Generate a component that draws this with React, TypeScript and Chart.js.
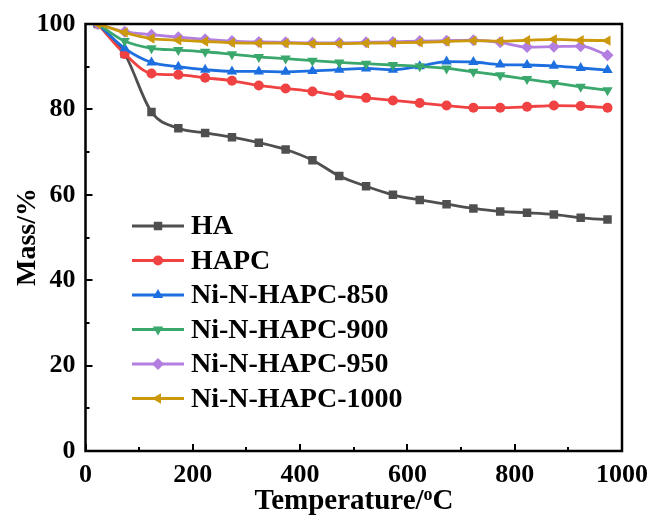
import React, { useEffect, useRef } from "react";
import { Chart, registerables } from "chart.js";

Chart.register(...registerables);

const temperatures = [23, 73, 123, 173, 223, 273, 323, 373, 423, 473, 523, 573, 623, 673, 723, 773, 823, 873, 923, 973];
const seriesNames = ["HA", "HAPC", "Ni-N-HAPC-850", "Ni-N-HAPC-900", "Ni-N-HAPC-950", "Ni-N-HAPC-1000"];
const massHA = [100, 93.0, 79.4, 75.6, 74.5, 73.5, 72.2, 70.6, 68.1, 64.4, 62.0, 60.0, 58.8, 57.8, 56.8, 56.1, 55.8, 55.4, 54.6, 54.2];
const massHAPC = [100, 93.0, 88.4, 88.1, 87.4, 86.7, 85.6, 84.9, 84.2, 83.3, 82.7, 82.1, 81.5, 80.9, 80.4, 80.4, 80.6, 80.9, 80.8, 80.4];
const mass850 = [100, 94.3, 91.0, 90.0, 89.3, 88.9, 88.9, 88.8, 89.0, 89.3, 89.6, 89.3, 90.1, 91.2, 91.1, 90.5, 90.4, 90.2, 89.7, 89.2];
const mass900 = [100, 96.0, 94.3, 93.9, 93.5, 92.9, 92.3, 91.9, 91.4, 91.0, 90.7, 90.4, 90.1, 89.6, 88.8, 88.0, 87.1, 86.2, 85.3, 84.5];
const mass950 = [100, 98.2, 97.5, 96.9, 96.4, 96.0, 95.8, 95.7, 95.6, 95.6, 95.7, 95.8, 96.0, 96.1, 96.2, 95.7, 94.6, 94.7, 94.8, 92.7];
const mass1000 = [100, 98.0, 96.6, 96.2, 95.9, 95.6, 95.5, 95.5, 95.4, 95.4, 95.5, 95.6, 95.7, 95.9, 96.1, 96.0, 96.2, 96.4, 96.2, 96.1];
const xTicks = [0, 200, 400, 600, 800, 1000];
const yTicks = [0, 20, 40, 60, 80, 100];

const colors = ["#4f4f4f", "#f04242", "#1d6fe0", "#3aa86c", "#b27fe0", "#cc980c"];
const pointStyles = ["rect", "circle", "triangle", "triangle", "rectRot", "triangle"];
const rotations = [0, 0, 0, 180, 0, -90];
const radii = [6, 5, 6, 6, 6, 6];
const seriesValues = [massHA, massHAPC, mass850, mass900, mass950, mass1000];

const FONT = '"Liberation Serif", "Times New Roman", serif';

function drawMarker(ctx: any, style: string, r: number, rot: number, x: number, y: number, color: string) {
  ctx.save();
  ctx.fillStyle = color;
  ctx.translate(x, y);
  ctx.rotate((rot * Math.PI) / 180);
  ctx.beginPath();
  if (style === "rect") {
    const s = r / Math.SQRT2;
    ctx.rect(-s, -s, 2 * s, 2 * s);
  } else if (style === "circle") {
    ctx.arc(0, 0, r, 0, Math.PI * 2);
  } else if (style === "rectRot") {
    ctx.moveTo(0, -r);
    ctx.lineTo(r, 0);
    ctx.lineTo(0, r);
    ctx.lineTo(-r, 0);
    ctx.closePath();
  } else {
    ctx.moveTo(0, -r);
    ctx.lineTo(r * 0.866, r * 0.5);
    ctx.lineTo(-r * 0.866, r * 0.5);
    ctx.closePath();
  }
  ctx.fill();
  ctx.restore();
}

const framePlugin = {
  id: "frameAndLegend",
  afterDraw(chart: any) {
    const ctx = chart.ctx;
    const { left, right, top, bottom } = chart.chartArea;
    const xs = chart.scales.x;
    const ys = chart.scales.y;
    ctx.save();
    ctx.strokeStyle = "#000";
    ctx.lineWidth = 2;
    for (let v = 0; v <= 1000; v += 100) {
      const px = Math.round(xs.getPixelForValue(v));
      const len = v % 200 === 0 ? 7 : 4;
      ctx.beginPath();
      ctx.moveTo(px, bottom);
      ctx.lineTo(px, bottom - len);
      ctx.stroke();
    }
    for (let v = 0; v <= 100; v += 10) {
      const py = Math.round(ys.getPixelForValue(v));
      const len = v % 20 === 0 ? 7 : 4;
      ctx.beginPath();
      ctx.moveTo(left, py);
      ctx.lineTo(left + len, py);
      ctx.stroke();
    }
    ctx.lineWidth = 2.5;
    ctx.strokeRect(left, top, right - left, bottom - top);

    ctx.fillStyle = "#000";
    ctx.font = `bold 28px ${FONT}`;
    ctx.textAlign = "center";
    ctx.textBaseline = "middle";
    ctx.save();
    ctx.translate(28, 237);
    ctx.rotate(-Math.PI / 2);
    ctx.fillText("Mass/%", 0, 0);
    ctx.restore();

    const part1 = "Temperature/";
    const part3 = "C";
    const big = `bold 29px ${FONT}`;
    const small = `bold 18px ${FONT}`;
    ctx.font = big;
    const w1 = ctx.measureText(part1).width;
    const w3 = ctx.measureText(part3).width;
    ctx.font = small;
    const w2 = ctx.measureText("o").width;
    const total = w1 + w2 + w3;
    const cx = 354;
    let sx = cx - total / 2;
    const ty = 509;
    ctx.textAlign = "left";
    ctx.textBaseline = "alphabetic";
    ctx.font = big;
    ctx.fillText(part1, sx, ty);
    sx += w1;
    ctx.font = small;
    ctx.fillText("o", sx, ty - 9);
    sx += w2;
    ctx.font = big;
    ctx.fillText(part3, sx, ty);

    const rowY = [226, 260.5, 295, 329.5, 364, 398.5];
    const lx0 = 132;
    const lx1 = 184;
    const tx = 191;
    chart.data.datasets.forEach((ds: any, i: number) => {
      const y = rowY[i];
      ctx.strokeStyle = colors[i];
      ctx.lineWidth = 2.8;
      ctx.beginPath();
      ctx.moveTo(lx0, y);
      ctx.lineTo(lx1, y);
      ctx.stroke();
      drawMarker(ctx, pointStyles[i], radii[i], rotations[i], (lx0 + lx1) / 2, y, colors[i]);
      ctx.fillStyle = "#000";
      ctx.font = `bold 28px ${FONT}`;
      ctx.textAlign = "left";
      ctx.textBaseline = "middle";
      ctx.fillText(ds.label, tx, y + 1);
    });
    ctx.restore();
  },
};

export default function App() {
  const ref = useRef<HTMLCanvasElement | null>(null);
  useEffect(() => {
    document.body.style.margin = "0";
    const canvas = ref.current;
    if (!canvas) return;
    const datasets = seriesNames.map((name, i) => ({
      label: name,
      data: temperatures.map((t, j) => ({ x: t, y: seriesValues[i][j] })),
      borderColor: colors[i],
      backgroundColor: colors[i],
      borderWidth: 2.8,
      pointStyle: pointStyles[i],
      pointRotation: rotations[i],
      pointRadius: radii[i],
      pointBorderWidth: 0,
      pointHoverRadius: radii[i],
      cubicInterpolationMode: "monotone" as const,
      order: 6 - i,
    }));
    const chart = new Chart(canvas, {
      type: "line",
      data: { datasets },
      options: {
        animation: false,
        responsive: false,
        devicePixelRatio: 1,
        layout: { padding: { top: 24, right: 29, left: 0, bottom: 0 } },
        plugins: { legend: { display: false }, tooltip: { enabled: false } },
        scales: {
          x: {
            type: "linear",
            min: 0,
            max: 1000,
            afterBuildTicks: (s: any) => {
              s.ticks = xTicks.map((v) => ({ value: v }));
            },
            afterFit: (s: any) => {
              s.height = 64;
              s.paddingLeft = 0;
              s.paddingRight = 0;
            },
            grid: { display: false, drawTicks: false },
            border: { display: false },
            ticks: {
              padding: 9,
              color: "#000",
              maxRotation: 0,
              callback: (v: any) => String(v),
              font: { family: FONT, size: 26, weight: "bold" },
            },
          },
          y: {
            type: "linear",
            min: 0,
            max: 100,
            afterBuildTicks: (s: any) => {
              s.ticks = yTicks.map((v) => ({ value: v }));
            },
            afterFit: (s: any) => {
              s.width = 85.5;
              s.paddingTop = 0;
              s.paddingBottom = 0;
            },
            grid: { display: false, drawTicks: false },
            border: { display: false },
            ticks: {
              padding: 10,
              color: "#000",
              callback: (v: any) => String(v),
              font: { family: FONT, size: 26, weight: "bold" },
            },
          },
        },
      },
      plugins: [framePlugin],
    } as any);
    return () => chart.destroy();
  }, []);
  return <canvas ref={ref} width={651} height={515} style={{ display: "block" }} />;
}
